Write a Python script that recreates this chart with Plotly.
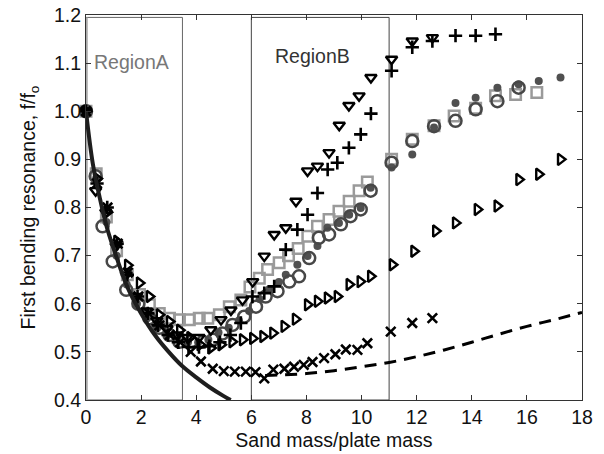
import plotly.graph_objects as go

# ---- data ----
curve_x = [0, 0.25, 0.5, 0.75, 1.0, 1.5, 2.0, 2.5, 3.0, 3.5, 4.0, 4.5, 5.0, 5.25]
curve_y = [1.0, 0.89, 0.82, 0.76, 0.715, 0.635, 0.58, 0.535, 0.5, 0.47, 0.447, 0.426, 0.408, 0.40]

dash_x = [6.5, 7.0, 8.0, 9.0, 10.0, 11.0, 12.0, 13.0, 14.0, 15.0, 16.0, 17.0, 18.0]
dash_y = [0.451, 0.452, 0.455, 0.461, 0.469, 0.478, 0.49, 0.504, 0.52, 0.537, 0.553, 0.567, 0.582]

tri_x = [0, 0.35, 0.72, 1.09, 1.46, 1.83, 2.2, 2.57, 2.94, 3.31, 3.68, 4.1, 4.53, 4.90, 5.26, 5.68,
         6.05, 6.47, 6.83, 7.25, 7.62, 8.04, 8.40, 8.82, 9.19, 9.54, 9.91, 10.34, 11.09, 11.84, 12.57]
tri_y = [1.0, 0.835, 0.79, 0.72, 0.66, 0.615, 0.585, 0.565, 0.548, 0.535, 0.53, 0.53, 0.546, 0.567, 0.587, 0.608,
         0.646, 0.699, 0.744, 0.758, 0.813, 0.876, 0.886, 0.914, 0.971, 1.012, 1.032, 1.07, 1.108, 1.146, 1.153]

plus_x = [0, 0.4, 0.77, 1.13, 1.5, 1.87, 2.24, 2.61, 2.98, 3.35, 3.72, 4.1, 4.48, 4.86, 5.24, 5.62,
          6.04, 6.47, 6.83, 7.25, 7.67, 8.04, 8.40, 8.77, 9.12, 9.54, 9.97, 10.34, 11.09, 11.84, 12.57,
          13.41, 14.14, 14.86]
plus_y = [1.0, 0.85, 0.80, 0.725, 0.66, 0.615, 0.58, 0.555, 0.535, 0.52, 0.51, 0.51, 0.512, 0.52, 0.535, 0.56,
          0.615, 0.622, 0.636, 0.7125, 0.754, 0.785, 0.83, 0.879, 0.893, 0.924, 0.952, 0.995, 1.084, 1.133, 1.146,
          1.157, 1.157, 1.16]

sq_x = [0, 0.37, 0.74, 1.11, 1.5, 1.94, 2.30, 2.66, 3.03, 3.39, 3.75, 4.11, 4.42, 4.84, 5.20, 5.62,
        5.95, 6.29, 6.59, 7.01, 7.35, 7.7, 8.05, 8.4, 8.82, 9.18, 9.55, 9.91, 10.21,
        11.09, 11.84, 12.63, 13.36, 14.14, 14.86, 15.59, 16.36]
sq_y = [1.0, 0.87, 0.78, 0.71, 0.66, 0.619, 0.598, 0.58, 0.57, 0.567, 0.567, 0.57, 0.57, 0.577, 0.594, 0.608,
        0.635, 0.653, 0.671, 0.685, 0.70, 0.715, 0.74, 0.761, 0.775, 0.792, 0.813, 0.835, 0.853,
        0.90, 0.942, 0.97, 0.99, 1.006, 1.032, 1.035, 1.039]

oc_x = [0, 0.35, 0.60, 0.97, 1.46, 1.9, 2.30, 2.66, 3.03, 3.39, 3.81, 4.24, 4.6, 4.95, 5.32, 5.74,
        6.17, 6.52, 6.95, 7.38, 7.73, 8.10, 8.45, 8.82, 9.25, 9.60, 9.97, 10.33,
        11.09, 11.84, 12.63, 13.41, 14.14, 14.93, 15.70]
oc_y = [1.0, 0.865, 0.761, 0.688, 0.629, 0.60, 0.57, 0.55, 0.535, 0.521, 0.521, 0.521, 0.525, 0.538, 0.556, 0.573,
        0.594, 0.615, 0.626, 0.646, 0.657, 0.695, 0.737, 0.744, 0.765, 0.782, 0.796, 0.835,
        0.893, 0.938, 0.969, 0.98, 1.004, 1.021, 1.049]

fc_x = [0, 0.37, 0.74, 1.11, 1.48, 1.85, 2.22, 2.59, 2.96, 3.33, 3.7, 4.07, 4.44, 4.81, 5.18, 5.55,
        5.92, 6.3, 6.65, 7.0, 7.25, 7.67, 8.04, 8.4, 8.76, 9.18, 9.55, 9.97, 10.33,
        11.09, 11.84, 12.63, 13.41, 14.14, 14.93, 15.70, 16.43, 17.22]
fc_y = [1.0, 0.86, 0.77, 0.70, 0.64, 0.60, 0.57, 0.55, 0.535, 0.525, 0.52, 0.52, 0.525, 0.54, 0.55, 0.565,
        0.585, 0.61, 0.63, 0.645, 0.66, 0.681, 0.699, 0.72, 0.758, 0.768, 0.785, 0.799, 0.841,
        0.883, 0.91, 0.966, 1.017, 1.028, 1.049, 1.056, 1.063, 1.07]

rt_x = [0, 0.4, 0.77, 1.12, 1.51, 1.94, 2.30, 2.66, 3.03, 3.4, 3.77, 4.14, 4.53, 4.90, 5.30, 5.68,
        6.05, 6.42, 6.78, 7.19, 7.60, 8.04, 8.40, 8.76, 9.12, 9.55, 9.95, 10.33,
        11.12, 11.90, 12.69, 13.41, 14.20, 14.92, 15.71, 16.43, 17.22]
rt_y = [1.0, 0.86, 0.79, 0.73, 0.68, 0.643, 0.615, 0.577, 0.563, 0.545, 0.53, 0.515, 0.508, 0.515, 0.521, 0.525,
        0.528, 0.532, 0.539, 0.553, 0.568, 0.598, 0.605, 0.612, 0.615, 0.64, 0.646, 0.657,
        0.681, 0.709, 0.751, 0.768, 0.796, 0.803, 0.858, 0.869, 0.90]

xm_x = [0, 0.4, 0.78, 1.15, 1.52, 1.9, 2.28, 2.66, 3.04, 3.42, 3.8, 4.17, 4.6, 5.0, 5.4, 5.8,
        6.15, 6.47, 6.8, 7.2, 7.55, 7.9, 8.22, 8.64, 9.05, 9.43, 9.85, 10.21, 11.06, 11.84, 12.57]
xm_y = [1.0, 0.85, 0.80, 0.725, 0.665, 0.615, 0.58, 0.555, 0.535, 0.52, 0.50, 0.48, 0.465, 0.46, 0.459, 0.459,
        0.458, 0.445, 0.463, 0.465, 0.469, 0.473, 0.479, 0.487, 0.495, 0.505, 0.504, 0.518, 0.542, 0.56, 0.57]

region_a = [0, 3.5]
region_b = [6, 11]
region_top = 1.195
x_ticks = [0, 2, 4, 6, 8, 10, 12, 14, 16, 18]
y_ticks = [0.4, 0.5, 0.6, 0.7, 0.8, 0.9, 1.0, 1.1, 1.2]

FONT = "Liberation Sans, Arial, Helvetica, sans-serif"

fig = go.Figure()

def add_markers(x, y, symbol, color, size, lw, fill=None):
    fig.add_trace(go.Scatter(
        x=x, y=y, mode="markers", cliponaxis=False, showlegend=False,
        marker=dict(symbol=symbol, size=size, color=fill if fill else color,
                    line=dict(color=color, width=lw))))

add_markers(sq_x, sq_y, "square-open", "#9a9a9a", 10.5, 2.5)
add_markers(fc_x, fc_y, "circle", "#505050", 8, 0, fill="#505050")
add_markers(oc_x, oc_y, "circle-open", "#474747", 12, 2.5)
add_markers(rt_x, rt_y, "triangle-right-open", "#000000", 10, 2.4)
add_markers(xm_x, xm_y, "x-thin-open", "#000000", 9.5, 2.6)
add_markers(tri_x, tri_y, "triangle-down-open", "#000000", 10, 2.4)
add_markers(plus_x, plus_y, "cross-thin-open", "#000000", 9.5, 2.6)

fig.add_trace(go.Scatter(x=curve_x, y=curve_y, mode="lines", showlegend=False,
                         line=dict(color="#1e1e1e", width=4, shape="spline")))
fig.add_trace(go.Scatter(x=dash_x, y=dash_y, mode="lines", showlegend=False,
                         line=dict(color="#000000", width=3, dash="12px,8px", shape="spline")))

# region boxes
fig.add_shape(type="rect", x0=region_a[0], x1=region_a[1], y0=0.4, y1=region_top,
              line=dict(color="#666666", width=1), layer="below")
fig.add_shape(type="line", x0=region_a[0], x1=region_a[0], y0=0.4, y1=region_top,
              line=dict(color="#aaaaaa", width=3.5), layer="below")
fig.add_shape(type="rect", x0=region_b[0], x1=region_b[1], y0=0.4, y1=region_top,
              line=dict(color="#444444", width=1), layer="below")

fig.add_annotation(x=0.22, y=1.103, text="RegionA", showarrow=False, xanchor="left",
                   font=dict(family=FONT, size=19.5, color="#777777"))
fig.add_annotation(x=8.22, y=1.114, text="RegionB", showarrow=False, xanchor="center",
                   font=dict(family=FONT, size=19.5, color="#333333"))

axis_common = dict(showline=True, linecolor="#333333", linewidth=1, mirror="ticks",
                   ticks="inside", ticklen=5, tickcolor="#333333", showgrid=False,
                   zeroline=False, tickfont=dict(family=FONT, size=19.5, color="#111111"))

fig.update_xaxes(range=[0, 18], tickvals=x_ticks, ticktext=[str(v) for v in x_ticks],
                 title=dict(text="Sand mass/plate mass", standoff=5,
                            font=dict(family=FONT, size=19.5, color="#111111")),
                 **axis_common)
fig.update_yaxes(range=[0.4, 1.2], tickvals=y_ticks, tickformat=".1f",
                 title=dict(text="First bending resonance, f/f<sub>o</sub>", standoff=13,
                            font=dict(family=FONT, size=19.5, color="#111111")),
                 **axis_common)

fig.update_layout(width=604, height=454, margin=dict(l=86, r=22, t=15, b=54, autoexpand=False),
                  paper_bgcolor="white", plot_bgcolor="white", font=dict(family=FONT))

fig.write_html("out.html", config={"displayModeBar": False},
               post_script="document.body.style.margin='0';document.body.style.overflow='hidden';")
